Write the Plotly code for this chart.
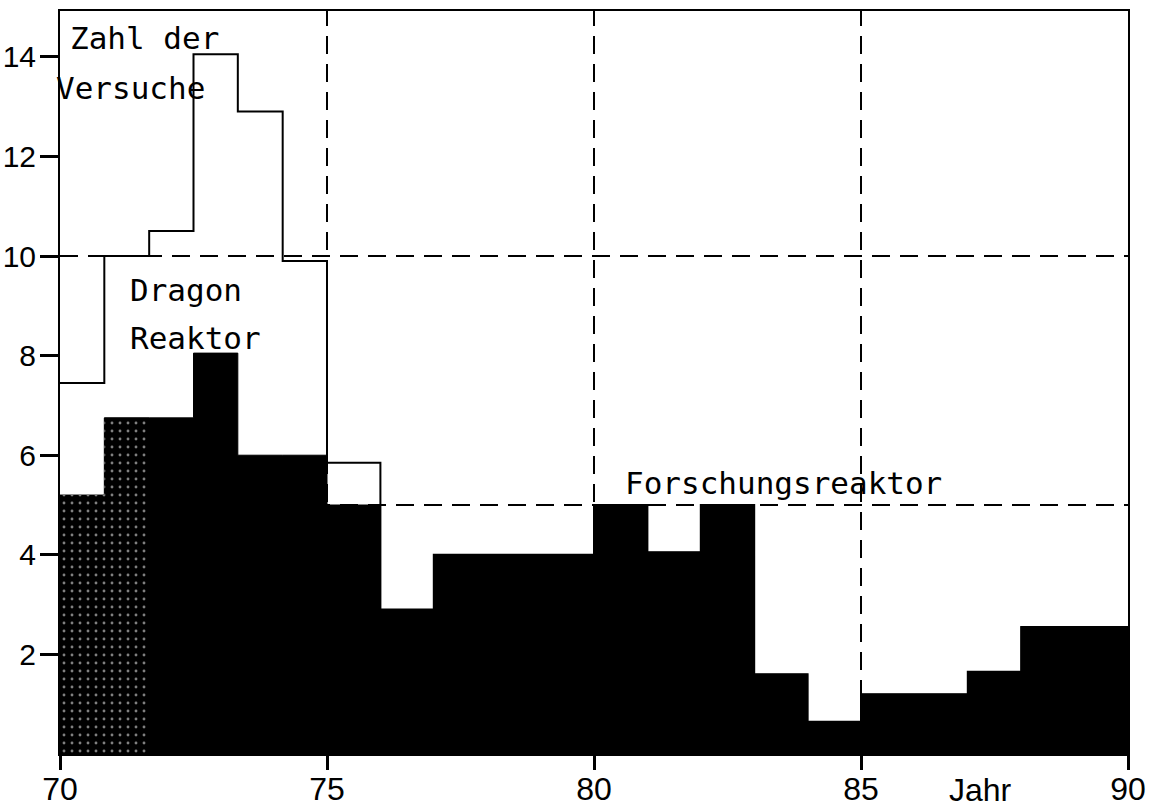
import plotly.graph_objects as go

# ---- data ----
# bin edges in years (six bins of 5/6 year from 1970-1975, then one-year bins)
bin_edges = [70, 70.83, 71.67, 72.5, 73.33, 74.17, 75, 76, 77, 78, 79, 80,
             81, 82, 83, 84, 85, 86, 87, 88, 89, 90]
# Forschungsreaktor experiments (black)
forschung = [5.2, 6.75, 6.75, 8.05, 6.0, 6.0, 5.0, 2.9, 4.0, 4.0, 4.0, 5.0,
             4.05, 5.0, 1.6, 0.65, 1.2, 1.2, 1.65, 2.55, 2.55]
# Dragon Reaktor experiments (white, above black)
dragon = [2.25, 3.25, 3.75, 6.0, 6.9, 3.9, 0.85, 0, 0, 0, 0, 0,
          0, 0, 0, 0, 0, 0, 0, 0, 0]
x_ticks = [70, 75, 80, 85, 90]
y_ticks = [2, 4, 6, 8, 10, 12, 14]
grid_x = [75, 80, 85]
grid_y = [5, 10]

total = [f + d for f, d in zip(forschung, dragon)]

TICK_FONT = dict(family="Liberation Sans Narrow, Liberation Sans, Arial, sans-serif",
                 size=32, color="black")
YTICK_FONT = dict(TICK_FONT, size=30)
MONO = dict(family="DejaVu Sans Mono, Liberation Mono, monospace", size=31, color="black")

fig = go.Figure()

# black area (Forschungsreaktor) as a filled step line
fig.add_trace(go.Scatter(
    x=bin_edges, y=forschung + [forschung[-1]], mode="lines",
    line=dict(color="black", width=1, shape="hv"),
    fill="tozeroy", fillcolor="black",
    showlegend=False, hoverinfo="skip",
))

# stippled texture on the first two bins
n_st = 2
fig.add_trace(go.Scatter(
    x=bin_edges[:n_st + 1], y=forschung[:n_st] + [forschung[n_st - 1]], mode="lines",
    line=dict(color="black", width=0, shape="hv"),
    fill="tozeroy", fillcolor="black",
    fillpattern=dict(shape=".", fgcolor="white", bgcolor="black",
                     size=8, solidity=0.1, fillmode="overlay"),
    showlegend=False, hoverinfo="skip",
))

# outline of total experiments
fig.add_trace(go.Scatter(
    x=bin_edges, y=total + [total[-1]], mode="lines",
    line=dict(color="black", width=2, shape="hv"),
    showlegend=False, hoverinfo="skip",
))

shapes = []
for gx in grid_x:
    shapes.append(dict(type="line", xref="x", yref="paper", x0=gx, x1=gx, y0=0, y1=1,
                       line=dict(color="black", width=2, dash="18px,10px"), layer="below"))
for gy in grid_y:
    shapes.append(dict(type="line", xref="paper", yref="y", x0=0, x1=1, y0=gy, y1=gy,
                       line=dict(color="black", width=2, dash="18px,10px"), layer="below"))

W, H = 1156, 810
L, R, T, B = 60, 28, 11, 56
pw, ph = W - L - R, H - T - B


def px(xp):
    return (xp - L) / pw


def py(yp):
    return (H - B - yp) / ph


annotations = [
    dict(text="Zahl der", x=px(68), y=py(38), xanchor="left", yanchor="middle", font=MONO),
    dict(text="Versuche", x=px(54), y=py(88), xanchor="left", yanchor="middle", font=MONO),
    dict(text="Dragon", x=px(128), y=py(290), xanchor="left", yanchor="middle", font=MONO),
    dict(text="Reaktor", x=px(128), y=py(338), xanchor="left", yanchor="middle", font=MONO),
    dict(text="Forschungsreaktor", x=px(623), y=py(483), xanchor="left", yanchor="middle", font=MONO),
    dict(text="Jahr", x=px(980), y=py(790), xanchor="center", yanchor="middle", font=TICK_FONT),
]
for a in annotations:
    a.update(xref="paper", yref="paper", showarrow=False)

fig.update_layout(
    template="none",
    width=W, height=H,
    margin=dict(l=L, r=R, t=T, b=B, pad=0, autoexpand=False),
    paper_bgcolor="white", plot_bgcolor="white",
    shapes=shapes, annotations=annotations,
    xaxis=dict(range=[70, 90], tickmode="array", tickvals=x_ticks,
               ticktext=[str(v) for v in x_ticks],
               ticks="outside", ticklen=14, tickwidth=3, tickcolor="#000000",
               ticklabelstandoff=-8,
               showline=True, linecolor="black", linewidth=2, mirror=True,
               showgrid=False, zeroline=False, tickfont=TICK_FONT, automargin=False),
    yaxis=dict(range=[0, 14.92], tickmode="array", tickvals=y_ticks,
               ticktext=[str(v) for v in y_ticks],
               ticks="outside", ticklen=18, tickwidth=3, tickcolor="#000000",
               ticklabelstandoff=-2,
               showline=True, linecolor="black", linewidth=2, mirror=True,
               showgrid=False, zeroline=False, tickfont=YTICK_FONT, automargin=False),
)

fig.write_html("out.html")
